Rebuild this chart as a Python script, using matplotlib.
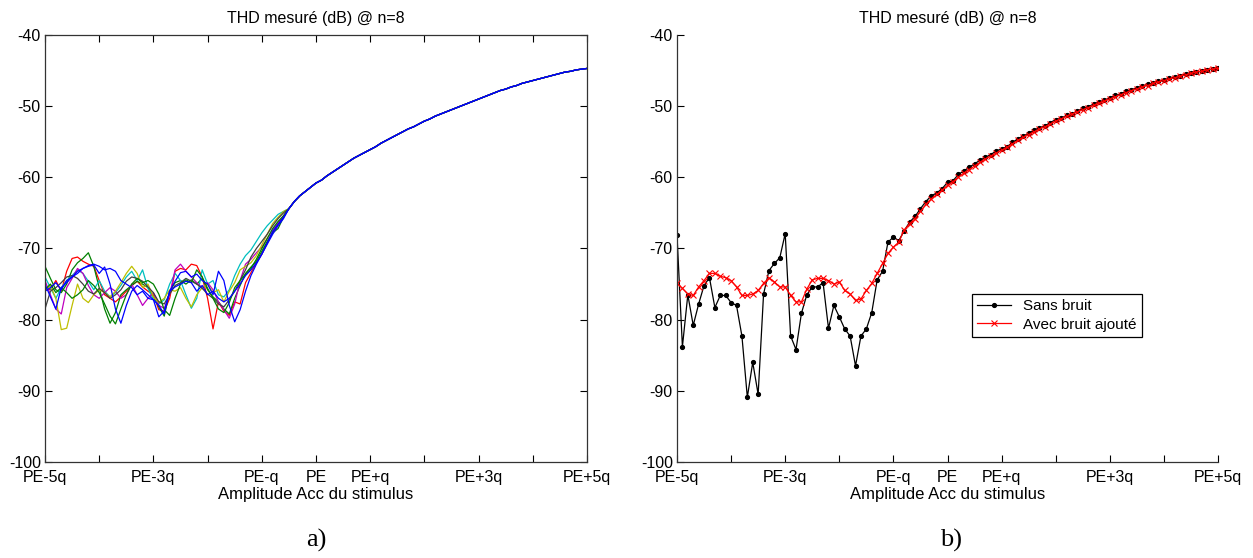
import numpy as np
import matplotlib
matplotlib.use("Agg")
import matplotlib.pyplot as plt

plt.rcParams['font.family'] = ['Liberation Sans', 'DejaVu Sans']
plt.rcParams['axes.unicode_minus'] = False

# x grid in units of q around PE (101 points, step 0.1q)
x_q = np.arange(-50, 51) / 10.0

tick_pos = [-5, -4, -3, -2, -1, 0, 1, 2, 3, 4, 5]
tick_labels = ['PE-5q', '', 'PE-3q', '', 'PE-q', 'PE', 'PE+q', '', 'PE+3q', '', 'PE+5q']
y_ticks = [-100, -90, -80, -70, -60, -50, -40]

title_txt = 'THD mesuré (dB) @ n=8'
xlabel_txt = 'Amplitude Acc du stimulus'

# ---- panel a) : measured realisations, noisy part (x = -5.0 .. -0.6)
blue1 = [-75.0,-76.8,-78.5,-75.5,-74.8,-74.0,-73.2,-72.8,-72.5,-72.3,-73.5,-72.6,-75.0,-78.5,-80.5,
         -78.0,-76.0,-75.2,-75.8,-76.5,-77.2,-78.0,-79.2,-76.0,-75.4,-75.0,-74.6,-74.8,-76.0,-75.2,
         -76.5,-76.0,-77.0,-77.5,-77.0,-76.0,-75.0,-73.8,-73.0,-72.0,-70.8,-69.4,-68.0,-66.8,-65.8]
green1 = [-72.5,-74.2,-75.8,-76.2,-75.0,-73.0,-72.0,-71.4,-70.6,-72.5,-75.5,-78.5,-80.5,-79.0,-76.5,
          -75.8,-75.2,-74.6,-75.0,-75.5,-76.8,-78.2,-79.5,-76.0,-74.8,-74.5,-75.0,-74.4,-75.0,-74.2,
          -75.8,-76.8,-77.5,-78.5,-79.2,-77.0,-75.2,-73.5,-72.6,-71.8,-70.4,-69.0,-67.8,-67.2,-65.6]
red1 = [-75.5,-75.8,-74.5,-76.0,-73.2,-71.4,-71.2,-71.8,-72.2,-72.5,-74.5,-76.5,-77.0,-77.5,-76.8,
        -76.0,-75.2,-74.6,-75.4,-76.0,-76.5,-78.6,-78.8,-77.0,-73.2,-72.8,-73.0,-72.2,-72.4,-74.0,
        -77.0,-81.3,-77.5,-78.8,-79.4,-77.5,-77.8,-74.8,-73.4,-72.0,-70.8,-69.2,-67.8,-66.5,-65.4]
cyan1 = [-74.0,-75.5,-77.0,-75.5,-74.5,-73.8,-73.0,-73.5,-74.6,-75.8,-74.5,-76.0,-76.8,-76.2,-75.2,
         -74.0,-73.2,-74.5,-73.0,-75.6,-77.2,-77.8,-77.2,-75.0,-73.5,-74.5,-76.5,-78.4,-77.0,-73.0,
         -75.0,-74.5,-76.5,-76.8,-75.8,-73.8,-72.2,-71.0,-70.2,-69.0,-67.8,-66.8,-66.0,-65.2,-64.8]
magenta1 = [-74.5,-76.5,-78.5,-79.2,-75.5,-74.2,-72.8,-73.5,-75.2,-76.5,-77.0,-76.2,-75.5,-76.0,-77.0,
            -76.5,-75.0,-76.5,-78.0,-77.0,-76.2,-78.0,-78.4,-76.5,-73.0,-72.2,-73.2,-74.0,-74.8,-75.5,
            -74.8,-75.8,-77.5,-78.6,-79.8,-77.8,-74.5,-72.2,-71.5,-70.6,-69.8,-68.6,-67.4,-66.4,-65.5]
yellow1 = [-76.0,-75.2,-77.0,-81.4,-81.2,-78.0,-75.0,-77.0,-77.6,-76.5,-75.8,-76.2,-76.8,-76.0,-74.8,
           -73.5,-72.5,-73.5,-75.5,-75.0,-76.8,-77.6,-77.0,-75.8,-76.0,-75.5,-77.0,-78.2,-76.5,-75.5,
           -75.0,-76.2,-75.8,-77.5,-76.0,-74.8,-73.0,-72.5,-72.0,-71.0,-69.5,-68.0,-66.5,-65.6,-64.8]
gray1 = [-78.5,-76.0,-75.5,-74.8,-74.0,-73.8,-74.2,-75.0,-76.0,-76.4,-75.6,-76.2,-77.0,-76.5,-75.8,
         -74.6,-74.0,-74.2,-74.6,-75.4,-76.2,-77.5,-77.8,-76.4,-75.2,-74.8,-74.2,-74.6,-75.0,-75.6,
         -76.4,-77.0,-77.8,-78.2,-77.2,-76.0,-74.5,-73.0,-71.2,-70.0,-69.0,-68.0,-66.8,-65.8,-65.0]
blue2 = [-76.0,-75.5,-74.8,-75.8,-74.5,-74.0,-73.5,-72.8,-72.4,-72.2,-72.5,-73.0,-72.8,-73.2,-74.5,
         -75.0,-75.5,-76.5,-76.0,-77.0,-77.2,-79.6,-78.8,-76.0,-74.6,-73.4,-73.2,-74.0,-73.6,-74.5,
         -75.0,-76.5,-73.2,-74.5,-78.0,-80.3,-78.6,-76.0,-73.8,-72.2,-70.8,-69.2,-67.6,-66.6,-65.6]
green2 = [-75.8,-75.0,-76.2,-75.5,-76.2,-77.0,-76.5,-75.8,-74.5,-75.2,-76.2,-77.8,-79.5,-80.6,-78.5,
          -76.5,-75.0,-74.2,-74.8,-74.5,-75.0,-76.4,-78.6,-79.4,-77.0,-75.0,-74.4,-74.8,-73.0,-74.0,
          -75.6,-77.0,-78.5,-79.0,-77.6,-75.5,-74.5,-73.6,-72.8,-71.5,-70.0,-68.6,-67.2,-66.2,-65.4]

# common smooth part of panel a) (x = -0.5 .. 5.0)
tail_a = [-64.4,-63.4,-62.6,-62.0,-61.4,-60.8,-60.4,-59.8,-59.3,-58.8,-58.3,-57.8,-57.3,-56.9,-56.5,
          -56.1,-55.7,-55.2,-54.8,-54.4,-54.0,-53.6,-53.2,-52.9,-52.5,-52.1,-51.8,-51.4,-51.1,-50.8,
          -50.5,-50.2,-49.9,-49.6,-49.3,-49.0,-48.7,-48.4,-48.1,-47.8,-47.6,-47.3,-47.1,-46.8,-46.6,
          -46.4,-46.2,-46.0,-45.8,-45.6,-45.4,-45.2,-45.1,-44.9,-44.8,-44.7]

series_a = [red1, green1, cyan1, magenta1, yellow1, gray1, green2, blue2, blue1]
colors_a = ['#ff0000', '#008000', '#00bfbf', '#bf00bf', '#bfbf00', '#404040',
            '#008000', '#0000ff', '#0000ff']

# ---- panel b)
sans_bruit = [-68.1,-83.8,-76.5,-80.8,-77.8,-75.2,-74.1,-78.3,-76.6,-76.6,
              -77.6,-78.0,-82.3,-90.9,-86.0,-90.5,-76.4,-73.1,-72.1,-71.3,
              -67.9,-82.3,-84.2,-79.1,-76.5,-75.4,-75.4,-74.8,-81.2,-78.0,
              -79.6,-81.3,-82.3,-86.5,-82.3,-81.3,-79.0,-74.4,-73.2,-69.1,
              -68.4,-68.9,-67.5,-66.3,-65.5,-64.4,-63.4,-62.6,-62.2,-61.6,
              -60.7,-60.5,-59.6,-59.1,-58.6,-58.1,-57.6,-57.2,-56.8,-56.3,
              -56.0,-55.7,-55.1,-54.6,-54.2,-53.8,-53.4,-53.0,-52.8,-52.3,
              -51.9,-51.7,-51.3,-51.1,-50.7,-50.3,-50.1,-49.7,-49.4,-49.2,
              -48.8,-48.5,-48.3,-47.9,-47.7,-47.4,-47.2,-46.9,-46.8,-46.5,
              -46.3,-46.1,-45.9,-45.7,-45.5,-45.3,-45.2,-45.1,-44.9,-44.8,
              -44.7]
avec_bruit = [-74.9,-75.6,-76.4,-76.6,-75.4,-74.5,-73.5,-73.5,-73.9,-74.1,
              -74.5,-75.4,-76.6,-76.6,-76.4,-75.9,-74.9,-74.1,-74.7,-75.4,
              -75.4,-76.6,-77.5,-77.5,-75.7,-74.4,-74.2,-74.2,-74.5,-75.0,
              -74.7,-75.9,-76.4,-77.3,-77.1,-75.9,-74.9,-73.5,-72.1,-70.7,
              -69.8,-69.1,-67.4,-66.5,-65.8,-64.8,-63.8,-63.0,-62.4,-61.8,
              -61.1,-60.6,-60.0,-59.4,-58.9,-58.4,-57.9,-57.4,-57.0,-56.6,
              -56.2,-55.8,-55.3,-54.8,-54.4,-54.0,-53.6,-53.2,-52.9,-52.5,
              -52.1,-51.8,-51.4,-51.1,-50.8,-50.5,-50.2,-49.9,-49.6,-49.3,
              -49.0,-48.7,-48.4,-48.1,-47.8,-47.6,-47.3,-47.1,-46.8,-46.6,
              -46.4,-46.2,-46.0,-45.8,-45.6,-45.4,-45.2,-45.1,-44.9,-44.8,
              -44.7]

W, H = 1253, 558
fig = plt.figure(figsize=(W / 100, H / 100), dpi=100)

def frac(x0, y0, x1, y1):
    return [x0 / W, 1 - y1 / H, (x1 - x0) / W, (y1 - y0) / H]

ax1 = fig.add_axes(frac(45, 35, 587, 462))
ax2 = fig.add_axes(frac(677, 35, 1218, 462))

for ax in (ax1, ax2):
    ax.set_xlim(-5, 5)
    ax.set_ylim(-100, -40)
    ax.set_xticks(tick_pos)
    ax.set_xticklabels(tick_labels)
    ax.set_yticks(y_ticks)
    ax.tick_params(direction='in', length=5, width=0.8, labelsize=11.5, colors='black')
    ax.tick_params(axis='x', pad=6)
    ax.tick_params(axis='y', pad=3)
    ax.set_title(title_txt, fontsize=11.5, pad=9)
    ax.set_xlabel(xlabel_txt, fontsize=12, labelpad=1)
    for sp in ax.spines.values():
        sp.set_linewidth(0.9)
        sp.set_color('#333333')

ax1.tick_params(top=True, right=True)
ax2.spines['top'].set_visible(False)
ax2.spines['right'].set_visible(False)

for s, c in zip(series_a, colors_a):
    ax1.plot(x_q, list(s) + tail_a, color=c, lw=0.9)

ax2.plot(x_q, sans_bruit, color='black', lw=0.9, marker='.', ms=5.5, label='Sans bruit')
ax2.plot(x_q, avec_bruit, color='red', lw=0.9, marker='x', ms=4.5, mew=0.8, label='Avec bruit ajouté')
leg = ax2.legend(loc='lower left', bbox_to_anchor=(0.545, 0.293), fontsize=11, fancybox=False,
                 edgecolor='black', framealpha=1, borderpad=0.35, handlelength=2.2,
                 labelspacing=0.3, borderaxespad=0)
leg.get_frame().set_linewidth(0.9)

fig.text((45 + 587) / 2 / W, 1 - 540 / H, 'a)', ha='center', va='center',
         fontsize=19, family='Liberation Serif')
fig.text((677 + 1218) / 2 / W + 0.003, 1 - 540 / H, 'b)', ha='center', va='center',
         fontsize=19, family='Liberation Serif')

fig.savefig('out.png', dpi=100)
